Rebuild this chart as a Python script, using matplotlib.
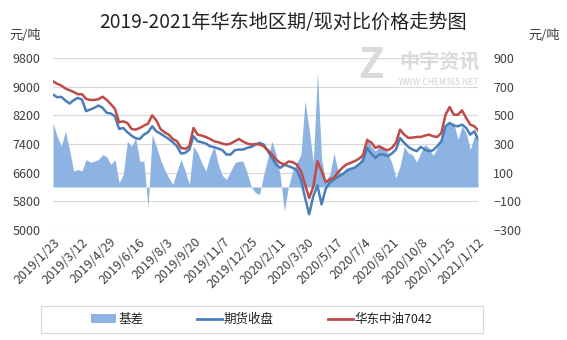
import matplotlib
matplotlib.use("Agg")
import matplotlib.pyplot as plt
from matplotlib.patches import Patch, Rectangle
from matplotlib.lines import Line2D
import pandas as pd

plt.rcParams['font.family'] = ['Noto Sans CJK SC', 'DejaVu Sans']

dates = [
    '2019-01-23','2019-01-30','2019-02-06','2019-02-13','2019-02-20','2019-02-27','2019-03-06','2019-03-13',
    '2019-03-20','2019-03-27','2019-04-03','2019-04-10','2019-04-17','2019-04-24','2019-05-01','2019-05-08',
    '2019-05-15','2019-05-22','2019-05-29','2019-06-05','2019-06-12','2019-06-19','2019-06-26','2019-07-03',
    '2019-07-10','2019-07-17','2019-07-24','2019-07-31','2019-08-07','2019-08-14','2019-08-21','2019-08-28',
    '2019-09-04','2019-09-11','2019-09-18','2019-09-25','2019-10-02','2019-10-09','2019-10-16','2019-10-23',
    '2019-10-30','2019-11-06','2019-11-13','2019-11-20','2019-11-27','2019-12-04','2019-12-11','2019-12-18',
    '2019-12-25','2020-01-01','2020-01-08','2020-01-15','2020-01-22','2020-01-29','2020-02-05','2020-02-12',
    '2020-02-19','2020-02-26','2020-03-04','2020-03-11','2020-03-18','2020-03-25','2020-04-01','2020-04-08',
    '2020-04-15','2020-04-22','2020-04-29','2020-05-06','2020-05-13','2020-05-20','2020-05-27','2020-06-03',
    '2020-06-10','2020-06-17','2020-06-24','2020-07-01','2020-07-08','2020-07-15','2020-07-22','2020-07-29',
    '2020-08-05','2020-08-12','2020-08-19','2020-08-26','2020-09-02','2020-09-09','2020-09-16','2020-09-23',
    '2020-09-30','2020-10-07','2020-10-14','2020-10-21','2020-10-28','2020-11-04','2020-11-11','2020-11-18',
    '2020-11-25','2020-12-02','2020-12-09','2020-12-16','2020-12-23','2020-12-30','2021-01-06','2021-01-12',
]

spot_7042 = [
    9150, 9080, 9030, 8950, 8900, 8850, 8790, 8790, 8660, 8630,
    8630, 8650, 8720, 8630, 8510, 8380, 8005, 8033, 7987, 7820,
    7801, 7848, 7913, 7968, 8200, 8061, 7820, 7727, 7662, 7542,
    7477, 7292, 7264, 7338, 7848, 7662, 7635, 7597, 7542, 7477,
    7449, 7412, 7384, 7412, 7477, 7542, 7468, 7412, 7384, 7403,
    7384, 7338, 7227, 7106, 6967, 6874, 6828, 6912, 6893, 6828,
    6643, 6272, 5892, 6207, 6921, 6643, 6337, 6411, 6457, 6615,
    6735, 6828, 6874, 6921, 6986, 7078, 7505, 7449, 7292, 7338,
    7264, 7227, 7292, 7431, 7801, 7662, 7570, 7579, 7597, 7597,
    7635, 7662, 7616, 7597, 7709, 8218, 8432, 8218, 8218, 8339,
    8126, 7940, 7894, 7783,
]

futures_close = [
    8780, 8706, 8715, 8613, 8530, 8622, 8688, 8641, 8317, 8363,
    8410, 8474, 8410, 8270, 8252, 8172, 7820, 7848, 7727, 7635,
    7560, 7542, 7662, 7727, 7894, 7755, 7690, 7616, 7542, 7449,
    7338, 7134, 7153, 7245, 7616, 7477, 7449, 7412, 7338, 7310,
    7273, 7227, 7106, 7106, 7227, 7245, 7245, 7292, 7319, 7384,
    7431, 7384, 7199, 7013, 6828, 6735, 6819, 6782, 6735, 6670,
    6411, 5901, 5438, 5947, 6244, 5716, 6151, 6318, 6411, 6485,
    6550, 6643, 6708, 6735, 6828, 6921, 7292, 7134, 7013, 7106,
    7106, 7060, 7134, 7245, 7570, 7431, 7319, 7245, 7199, 7319,
    7245, 7199, 7227, 7338, 7477, 7894, 7987, 7913, 7894, 7940,
    7848, 7662, 7755, 7542,
]

basis = [
    447, 354, 284, 389, 261, 111, 122, 111, 192, 173,
    180, 192, 226, 210, 157, 192, 29, 87, 319, 284,
    342, 180, 180, -144, 366, 284, 192, 122, 64, 18,
    111, 192, 111, 18, 284, 238, 169, 111, 215, 284,
    157, 80, 53, 111, 169, 180, 180, 99, 0, -40,
    -52, 87, 203, 319, 226, 76, -168, 6, 111, 169,
    226, 600, 400, 169, 800, 192, 41, 87, 238, 111,
    94, 134, 127, 150, 169, 226, 354, 284, 250, 284,
    284, 238, 169, 64, 145, 284, 238, 226, 173, 238,
    296, 273, 220, 273, 331, 435, 447, 447, 331, 424,
    377, 261, 354, 354,
]

tick_labels = ['2019/1/23', '2019/3/12', '2019/4/29', '2019/6/16', '2019/8/3', '2019/9/20',
               '2019/11/7', '2019/12/25', '2020/2/11', '2020/3/30', '2020/5/17', '2020/7/4',
               '2020/8/21', '2020/10/8', '2020/11/25', '2021/1/12']
left_ticks = [5000, 5800, 6600, 7400, 8200, 9000, 9800]
right_ticks = [-300, -100, 100, 300, 500, 700, 900]

title = '2019-2021年华东地区期/现对比价格走势图'
unit = '元/吨'
legend_labels = ['基差', '期货收盘', '华东中油7042']

c_area = '#8db3e2'
c_fut = '#4a7ebb'
c_spot = '#be4b48'
c_grid = '#d9d9d9'
c_text = '#404040'

x = pd.to_datetime(dates)
xt = pd.to_datetime(tick_labels, format='%Y/%m/%d')

fig = plt.figure(figsize=(5.67, 3.40), dpi=100)
ax = fig.add_axes([0.0935, 0.3235, 0.7495, 0.5059])
ax2 = ax.twinx()

ax2.fill_between(x, 0, basis, color=c_area, linewidth=0, zorder=2)
ax2.set_ylim(-300, 900)
ax2.set_yticks(right_ticks)
ax2.grid(axis='y', color=c_grid, linewidth=0.9, zorder=0)
ax2.set_axisbelow(True)

ax.set_zorder(ax2.get_zorder() + 1)
ax.patch.set_visible(False)
ax.plot(x, futures_close, color=c_fut, linewidth=1.8, solid_joinstyle='round')
ax.plot(x, spot_7042, color=c_spot, linewidth=1.8, solid_joinstyle='round')
ax.set_ylim(5000, 9800)
ax.set_yticks(left_ticks)
ax.set_xlim(xt[0], xt[-1])
ax.set_xticks(xt)
ax.set_xticklabels(tick_labels, rotation=45, ha='right', rotation_mode='anchor',
                   fontsize=9, color=c_text)

for a in (ax, ax2):
    for s in a.spines.values():
        s.set_visible(False)
    a.tick_params(length=0, labelsize=9, labelcolor=c_text)
ax.tick_params(axis='y', pad=9)
ax2.tick_params(axis='y', pad=11)
ax.tick_params(axis='x', pad=4)

fig.text(0.5, 0.935, title, ha='center', va='center', fontsize=13.8, color='#222222')
fig.text(0.016, 0.895, unit, ha='left', va='center', fontsize=9.5, color=c_text)
fig.text(0.988, 0.895, unit, ha='right', va='center', fontsize=9.5, color=c_text)

# watermark
fig.text(0.655, 0.805, 'Z', ha='center', va='center', fontsize=30, fontweight='bold',
         style='italic', color='#dadada', zorder=0)
fig.text(0.775, 0.82, '中宇资讯', ha='center', va='center', fontsize=14.5, fontweight='bold',
         color='#dadada', zorder=0)
fig.text(0.775, 0.758, 'WWW.CHEM365.NET', ha='center', va='center', fontsize=6,
         color='#d2d2d2', zorder=0)

# legend
fig.patches.append(Rectangle((0.072, 0.022), 0.78, 0.077, transform=fig.transFigure,
                             facecolor='white', edgecolor=c_grid, linewidth=0.9))
handles = [Patch(facecolor=c_area, edgecolor='none'),
           Line2D([], [], color=c_fut, linewidth=2.0),
           Line2D([], [], color=c_spot, linewidth=2.0)]
fig.legend(handles, legend_labels, loc='center', bbox_to_anchor=(0.462, 0.06), ncol=3,
           frameon=False, fontsize=9, handlelength=2.0, handletextpad=0.15,
           columnspacing=4.3, labelcolor='#222222')

fig.savefig('out.png', dpi=100)
